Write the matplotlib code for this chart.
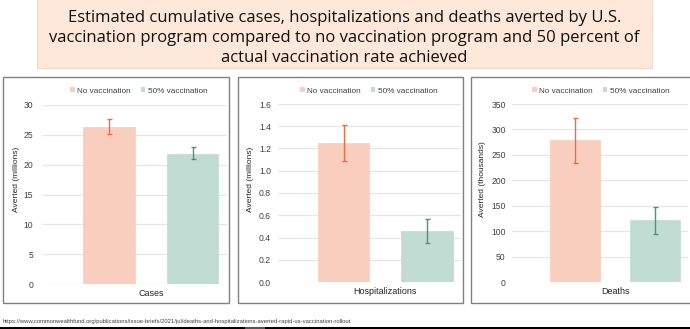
import matplotlib
matplotlib.use("Agg")
import matplotlib.pyplot as plt
from matplotlib.patches import Rectangle, Patch
from matplotlib.transforms import blended_transform_factory

W, H = 690, 329

title_lines = ["Estimated cumulative cases, hospitalizations and deaths averted by U.S.",
               "vaccination program compared to no vaccination program and 50 percent of",
               "actual vaccination rate achieved"]
series = ["No vaccination", "50% vaccination"]
categories = ["Cases", "Hospitalizations", "Deaths"]
ylabels = ["Averted (millions)", "Averted (millions)", "Averted (thousands)"]
no_vax = [26.3, 1.25, 279]
no_vax_lo = [25.1, 1.09, 234]
no_vax_hi = [27.6, 1.41, 323]
half_vax = [21.8, 0.455, 121]
half_vax_lo = [20.9, 0.35, 94]
half_vax_hi = [22.9, 0.57, 147]
ymax = [30, 1.6, 350]
ystep = [5, 0.2, 50]
yfmt = ["{:.0f}", "{:.1f}", "{:.0f}"]
source = "https://www.commonwealthfund.org/publications/issue-briefs/2021/jul/deaths-and-hospitalizations-averted-rapid-us-vaccination-rollout"

bar_colors = ["#f9cebe", "#c1ddd3"]
err_colors = ["#ee6a43", "#3d9a7c"]

plt.rcParams["font.family"] = ["Liberation Sans", "DejaVu Sans"]
fig = plt.figure(figsize=(W / 100, H / 100), dpi=100)
fig.patch.set_facecolor("white")


def fx(x):
    return x / W


def fy(y):
    return 1 - y / H


def prect(x0, y0, x1, y1, **kw):
    r = Rectangle((fx(x0), fy(y1)), fx(x1 - x0), (y1 - y0) / H,
                  transform=fig.transFigure, **kw)
    fig.patches.append(r)
    return r


# title box
prect(37, -2, 652, 68, facecolor="#fde8da", edgecolor="#f3d8c6", lw=0.8, zorder=-1)
for i, line in enumerate(title_lines):
    fig.text(fx(344.5), fy(17.5 + 20 * i), line, ha="center", va="center",
             fontsize=12.0, family=["Open Sans", "DejaVu Sans"], color="#111111")

# panel geometry (pixels)
boxes = [(3, 77, 229, 303), (238, 77, 463, 303), (471, 77, 694, 303)]
axes_px = [(43, 105, 227, 284), (278, 104, 461, 282), (512, 104, 688, 282)]
legend_cx = [139, 369, 601]
ylabel_x = [16, 250, 482]
tickpad = [7, 5, 4.5]

w = 0.4
off = 0.81 * w
for i in range(3):
    bx0, by0, bx1, by1 = boxes[i]
    prect(bx0, by0, bx1, by1, facecolor="white", edgecolor="#808080", lw=1.0, zorder=-1)
    x0, y0, x1, y1 = axes_px[i]
    ax = fig.add_axes([fx(x0), fy(y1), fx(x1 - x0), (y1 - y0) / H])
    ax.set_zorder(2)
    ax.patch.set_alpha(0)
    vals = [no_vax[i], half_vax[i]]
    lo = [no_vax_lo[i], half_vax_lo[i]]
    hi = [no_vax_hi[i], half_vax_hi[i]]
    for j in range(2):
        xpos = -off if j == 0 else off
        ax.bar(xpos, vals[j], width=w, color=bar_colors[j], edgecolor=bar_colors[j],
               lw=0.5, zorder=2, label=series[j])
        ax.errorbar(xpos, vals[j], yerr=[[vals[j] - lo[j]], [hi[j] - vals[j]]],
                    fmt="none", ecolor=err_colors[j], elinewidth=1.0, capsize=1.8,
                    capthick=1.0, zorder=3)
    ax.set_xlim(-0.835, 0.59)
    ax.set_ylim(0, ymax[i])
    n = int(round(ymax[i] / ystep[i]))
    ticks = [ystep[i] * k for k in range(n + 1)]
    ax.set_yticks(ticks)
    ax.set_yticklabels([yfmt[i].format(t) for t in ticks])
    ax.tick_params(axis="y", length=0, labelsize=6.2, labelcolor="#404040", pad=tickpad[i])
    ax.set_xticks([])
    for s in ax.spines.values():
        s.set_visible(False)
    ax.grid(axis="y", color="#e6e6e6", lw=0.9, zorder=0)
    ax.set_axisbelow(True)
    tr = blended_transform_factory(ax.transData, fig.transFigure)
    ax.text(0, fy(y1 + 9.5), categories[i], transform=tr, ha="center", va="center",
            fontsize=6.5, color="#262626")
    fig.text(fx(ylabel_x[i]), fy(179), ylabels[i], rotation=90, ha="center",
             va="center", fontsize=6.0, color="#262626")
    handles = [Patch(facecolor=bar_colors[j], edgecolor="none") for j in range(2)]
    ax.legend(handles, series, loc="center", bbox_to_anchor=(fx(legend_cx[i]), fy(91)),
              bbox_transform=fig.transFigure, ncol=2, frameon=False, fontsize=5.9,
              handlelength=0.5, handleheight=0.5, handletextpad=0.3, columnspacing=1.3,
              labelcolor="#404040", borderpad=0)

# source
fig.text(fx(3), fy(321), source, ha="left", va="center", fontsize=4.2, color="#404040")

# bottom strip
prect(0, 327, 690, 330, facecolor="black", edgecolor="none", zorder=5)
prect(245, 327, 265, 330, facecolor="#555555", edgecolor="none", zorder=6)

fig.savefig("out.png", dpi=100)
